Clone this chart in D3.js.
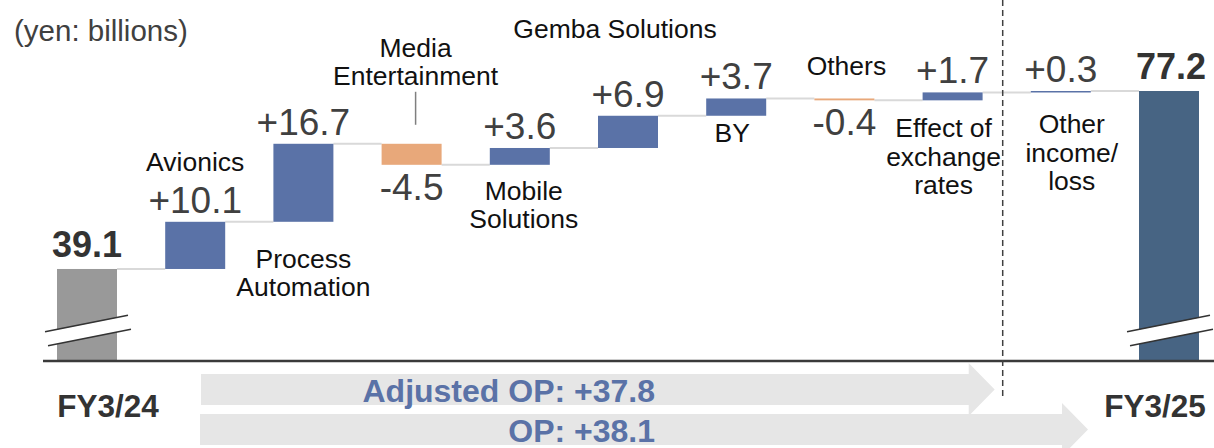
<!DOCTYPE html>
<html>
<head>
<meta charset="utf-8">
<script src="https://cdn.jsdelivr.net/npm/d3@7"></script>
<style>
  body { margin: 0; background: #fff; }
  text { font-family: "Liberation Sans", Arial, sans-serif; }
</style>
</head>
<body>
<div id="vis"></div>
<script>
// data (yen: billions)
const categories = ["FY3/24", "Avionics", "Process Automation", "Media Entertainment",
  "Mobile Solutions", "Gemba Solutions", "BY", "Others",
  "Effect of exchange rates", "Other income/loss", "FY3/25"];
const values = [39.1, 10.1, 16.7, -4.5, 3.6, 6.9, 3.7, -0.4, 1.7, 0.3, 77.2];
const isTotal = [true, false, false, false, false, false, false, false, false, false, true];
const categoryLines = [[], ["Avionics"], ["Process", "Automation"], ["Media", "Entertainment"],
  ["Mobile", "Solutions"], ["Gemba Solutions"], ["BY"], ["Others"],
  ["Effect of", "exchange", "rates"], ["Other", "income/", "loss"], []];
const periodLabels = ["FY3/24", "FY3/25"];
const opNames = ["Adjusted OP", "OP"];
const opValues = [37.8, 38.1];
const unitLabel = "(yen: billions)";

// layout
const W = 1214, H = 448;
const axisY = 361;
const barW = 60;

let svg = d3.select("#vis")
  .append("svg")
  .attr("width", W)
  .attr("height", H);

let x = d3.scalePoint()
  .domain(categories)
  .range([87, 1169]);

let y = d3.scaleLinear()
  .domain([19.4, 77.2])
  .range([axisY, 91]);

// running totals for the waterfall
let bars = [];
let running = 0;
values.forEach((v, i) => {
  if (isTotal[i]) {
    bars.push({ i, v, lo: y.domain()[0], hi: v, kind: "total" });
    running = v;
  } else {
    let start = running;
    running = start + v;
    bars.push({ i, v, lo: Math.min(start, running), hi: Math.max(start, running), start, end: running, kind: v >= 0 ? "up" : "down" });
  }
});

const fillOf = d => {
  if (d.kind == "total") return d.i == 0 ? "#999999" : "#476483";
  return d.kind == "up" ? "#5a72a7" : "#e8a87a";
};

// connector lines between bars
let connectors = [];
for (let k = 0; k < bars.length - 1; k++) {
  let level = bars[k].kind == "total" ? bars[k].hi : bars[k].end;
  connectors.push({ x1: x(categories[k]) + barW / 2, x2: x(categories[k + 1]) - barW / 2, level });
}
svg.selectAll(".conn")
  .data(connectors)
  .enter().append("line")
  .attr("class", "conn")
  .attr("x1", d => d.x1)
  .attr("x2", d => d.x2)
  .attr("y1", d => y(d.level))
  .attr("y2", d => y(d.level))
  .attr("stroke", "#d9d9d9")
  .attr("stroke-width", 2);

// bars
svg.selectAll(".bar")
  .data(bars)
  .enter().append("rect")
  .attr("class", "bar")
  .attr("x", d => x(categories[d.i]) - barW / 2)
  .attr("width", barW)
  .attr("y", d => y(d.hi))
  .attr("height", d => Math.max(1.5, y(d.lo) - y(d.hi)))
  .attr("fill", fillOf);

// break marks on the two total bars
bars.filter(d => d.kind == "total").forEach(d => {
  let cx = x(categories[d.i]);
  let g = svg.append("g");
  g.append("polygon")
    .attr("points", [[cx - 41, 331.7], [cx + 41, 315.5], [cx + 43, 329.3], [cx - 39, 345.7]].join(" "))
    .attr("fill", "#fff");
  g.append("line")
    .attr("x1", cx - 42).attr("y1", 331.7).attr("x2", cx + 41).attr("y2", 315.3)
    .attr("stroke", "#333").attr("stroke-width", 1.6);
  g.append("line")
    .attr("x1", cx - 39).attr("y1", 345.7).attr("x2", cx + 44).attr("y2", 329.3)
    .attr("stroke", "#333").attr("stroke-width", 1.6);
});

// axis line
svg.append("line")
  .attr("x1", 43).attr("x2", W)
  .attr("y1", axisY).attr("y2", axisY)
  .attr("stroke", "#3a3a3a")
  .attr("stroke-width", 2.5);

// divider between adjusted OP and other income
let divX = (x(categories[8]) + x(categories[9])) / 2 - 4;
svg.append("line")
  .attr("x1", divX).attr("x2", divX)
  .attr("y1", 0).attr("y2", 398)
  .attr("stroke", "#404040")
  .attr("stroke-width", 1.5)
  .attr("stroke-dasharray", "6,4");

// value labels
const fmt = v => (v > 0 ? "+" : "") + v.toFixed(1);
svg.selectAll(".val")
  .data(bars)
  .enter().append("text")
  .attr("class", "val")
  .attr("x", d => x(categories[d.i]) + (d.i == 10 ? 2 : 0))
  .attr("y", d => {
    if (d.kind == "total") return y(d.hi) - 12;
    if (d.kind == "down") return y(d.lo) + 35;
    return y(d.hi) - 9;
  })
  .attr("text-anchor", "middle")
  .attr("font-size", d => d.kind == "total" ? 36 : 37)
  .attr("font-weight", d => d.kind == "total" ? "bold" : "normal")
  .attr("fill", d => d.kind == "total" ? "#333" : "#404040")
  .text(d => d.kind == "total" ? d.v.toFixed(1) : fmt(d.v));

// category labels: where each sits relative to its bar
const catPlace = [null,
  { ref: "top", dy: -51, dx: 0 },
  { ref: "bottom", dy: 46, dx: 0 },
  { ref: "top", dy: -87, dx: 4, leader: true },
  { ref: "bottom", dy: 35, dx: 4 },
  { ref: "top", dy: -78, dx: -13 },
  { ref: "bottom", dy: 26, dx: -4 },
  { ref: "top", dy: -23, dx: 2 },
  { ref: "bottom", dy: 37, dx: -9 },
  { ref: "bottom", dy: 41, dx: 11 },
  null];

bars.forEach(d => {
  let p = catPlace[d.i];
  if (!p) return;
  let cx = x(categories[d.i]) + p.dx;
  let base = p.ref == "top" ? y(d.hi) + p.dy : y(d.lo) + p.dy;
  let t = svg.append("text")
    .attr("x", cx)
    .attr("y", base)
    .attr("text-anchor", "middle")
    .attr("font-size", 26.5)
    .attr("fill", "#111");
  categoryLines[d.i].forEach((line, k) => {
    t.append("tspan")
      .attr("x", cx)
      .attr("dy", k == 0 ? 0 : 28.5)
      .text(line);
  });
  if (p.leader) {
    svg.append("line")
      .attr("x1", cx).attr("x2", cx)
      .attr("y1", base + 35).attr("y2", y(d.hi) - 19)
      .attr("stroke", "#7f7f7f")
      .attr("stroke-width", 1.5);
  }
});

// unit note
svg.append("text")
  .attr("x", 14).attr("y", 41)
  .attr("font-size", 29.5)
  .attr("fill", "#404040")
  .text(unitLabel);

// period labels under the axis
svg.selectAll(".period")
  .data(periodLabels)
  .enter().append("text")
  .attr("class", "period")
  .attr("x", (d, k) => k == 0 ? x(categories[0]) + 21 : x(categories[10]) - 14)
  .attr("y", 417)
  .attr("text-anchor", "middle")
  .attr("font-size", 31.5)
  .attr("font-weight", "bold")
  .attr("fill", "#333")
  .text(d => d);

// arrows: adjusted OP ends at the divider, OP runs past it
const arrows = [
  { x0: 201, tip: divX - 8, top: 374, bot: 405, head: 11 },
  { x0: 200, tip: 1088, top: 414, bot: 445, head: 11 }
];
arrows.forEach((a, k) => {
  let mid = (a.top + a.bot) / 2;
  let neck = a.tip - 26;
  let pts = [[a.x0, a.top], [neck, a.top], [neck, a.top - a.head], [a.tip, mid],
    [neck, a.bot + a.head], [neck, a.bot], [a.x0, a.bot]];
  svg.append("polygon")
    .attr("points", pts.join(" "))
    .attr("fill", "#e6e6e6");
  svg.append("text")
    .attr("x", 655)
    .attr("y", a.bot - 3)
    .attr("text-anchor", "end")
    .attr("font-size", 32)
    .attr("font-weight", "bold")
    .attr("fill", "#5a72a7")
    .text(opNames[k] + ": " + fmt(opValues[k]));
});
</script>
</body>
</html>
